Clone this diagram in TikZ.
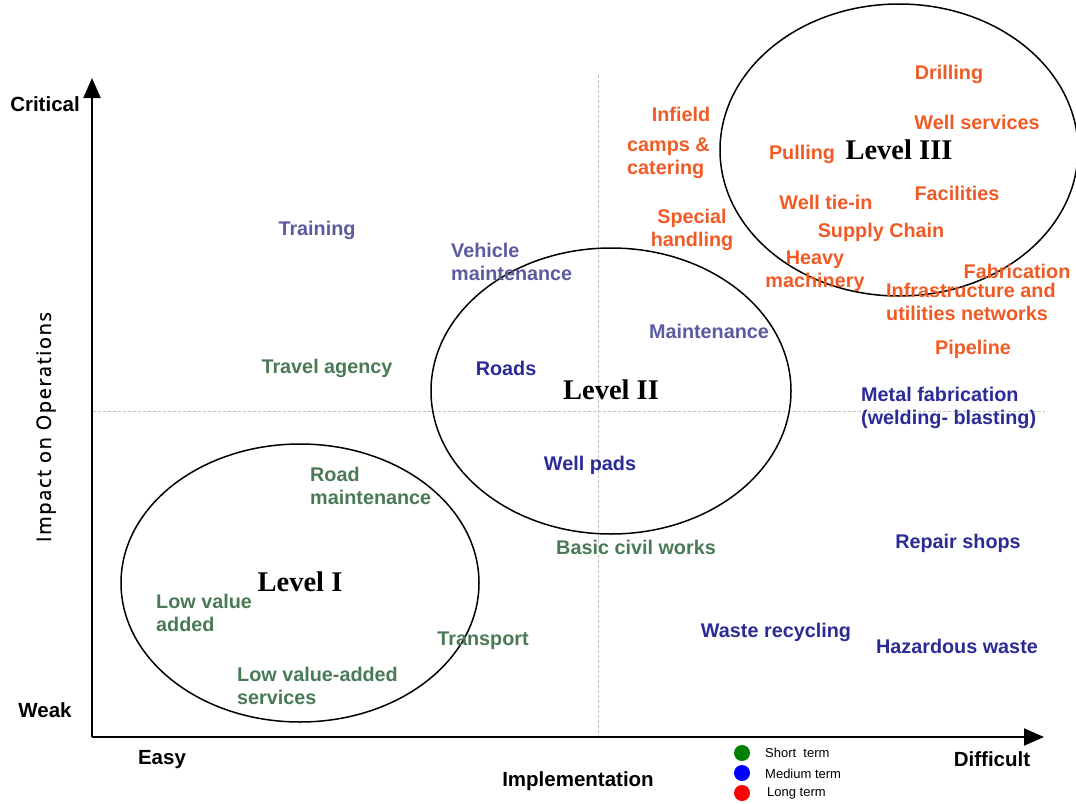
\documentclass[tikz,border=0pt]{standalone}
\usepackage{fontspec}
\setmainfont{Liberation Sans}
\newfontfamily\lvlfont{Liberation Serif}
\newfontfamily\impfont[LetterSpace=8, FakeBold=0.8]{Open Sans}
\usetikzlibrary{arrows.meta}
\definecolor{orng}{HTML}{F05A24}
\definecolor{purp}{HTML}{5B5B9E}
\definecolor{dblue}{HTML}{2B2B96}
\definecolor{grn}{HTML}{4A7A55}
\tikzset{
  lbl/.style={inner sep=0pt, yshift=-1pt, font=\fontsize{19.8}{23}\selectfont\bfseries, align=left},
  olbl/.style={lbl, text=orng},
  plbl/.style={lbl, text=purp},
  blbl/.style={lbl, text=dblue},
  glbl/.style={lbl, text=grn},
  axlbl/.style={inner sep=0pt, yshift=-0.5pt, font=\fontsize{20.5}{23}\selectfont\bfseries},
  lvl/.style={inner sep=0pt, yshift=-1pt, font=\fontsize{28.5}{32}\lvlfont\bfseries},
  ring/.style={draw=black, line width=1.5pt},
  guide/.style={draw=gray!50, line width=0.6pt, dash pattern=on 3pt off 2pt},
  axis/.style={draw=black, line width=2pt, -{Triangle[length=20pt,width=17pt]}},
  legdot/.style={circle, inner sep=0pt, minimum size=16pt},
  legtxt/.style={inner sep=0pt, anchor=west, yshift=-1pt, font=\fontsize{13}{15}\selectfont}
}
\begin{document}
\begin{tikzpicture}[x=1pt,y=-1pt]
\useasboundingbox (0,0) rectangle (1076,803);
% guides
\coordinate (vtop) at (598,75);
\coordinate (vbot) at (598,737);
\coordinate (hl) at (93,411);
\coordinate (hr) at (1045,411);
\draw[guide] (vtop) -- (vbot);
\draw[guide] (hl) -- (hr);
% axes
\coordinate (orig) at (92,737);
\coordinate (ytip) at (92,78);
\coordinate (xtip) at (1044,737);
\draw[axis] (orig) -- (ytip);
\draw[axis] (orig) -- (xtip);
% ellipses
\draw[ring] (300,583) ellipse [x radius=179, y radius=139];
\draw[ring] (611,391) ellipse [x radius=180, y radius=143];
\draw[ring] (899,150) ellipse [x radius=179, y radius=146];
% level labels
\node[lvl] (l1) at (300,581) {Level I};
\node[lvl] (l2) at (611,389) {Level II};
\node[lvl] (l3) at (899,149) {Level III};
% axis labels
\node[axlbl] (crit) at (45,104) {Critical};
\node[axlbl] (weak) at (45,710) {Weak};
\node[axlbl] (easy) at (162,759) {Easy};
\node[axlbl] (impl) at (578,781) {Implementation};
\node[axlbl] (diff) at (992,759) {Difficult};
\node[inner sep=0pt, rotate=90, font=\fontsize{20}{23}\impfont] (impact) at (46,427) {Impact on Operations};
% orange
\node[olbl] (infield) at (681,113) {Infield};
\node[olbl, anchor=west] (camps) at (627,157) {camps \&\\catering};
\node[olbl, align=center] (special) at (692,229) {Special\\handling};
\node[olbl] (pulling) at (802,153) {Pulling};
\node[olbl] (drilling) at (949,73) {Drilling};
\node[olbl] (wellserv) at (977,121) {Well services};
\node[olbl] (welltie) at (826,201) {Well tie-in};
\node[olbl] (facil) at (957,192) {Facilities};
\node[olbl] (supply) at (881,231) {Supply Chain};
\node[olbl, align=center] (heavy) at (815,270) {Heavy\\machinery};
\node[olbl] (fabr) at (1017,270) {Fabrication};
\node[olbl, anchor=west] (infra) at (886,301) {Infrastructure and\\utilities networks};
\node[olbl] (pipe) at (973,348) {Pipeline};
% purple
\node[plbl] (training) at (317,229) {Training};
\node[plbl, anchor=west] (vehicle) at (451,261) {Vehicle\\maintenance};
\node[plbl] (maint) at (709,330) {Maintenance};
% dark blue
\node[blbl] (roads) at (506,367) {Roads};
\node[blbl] (wellpads) at (590,464) {Well pads};
\node[blbl, anchor=west] (metal) at (861,407) {Metal fabrication\\(welding- blasting)};
\node[blbl] (repair) at (958,542) {Repair shops};
\node[blbl] (waste) at (776,631) {Waste recycling};
\node[blbl] (hazard) at (957,645) {Hazardous waste};
% green
\node[glbl] (travel) at (327,367) {Travel agency};
\node[glbl, anchor=west] (roadm) at (310,485) {Road\\maintenance};
\node[glbl] (basic) at (636,546) {Basic civil works};
\node[glbl, anchor=west] (lowva) at (156,612) {Low value\\added};
\node[glbl] (transport) at (483,640) {Transport};
\node[glbl, anchor=west] (lowvas) at (237,685) {Low value-added\\services};
% legend
\node[legdot, fill={rgb,255:red,0;green,128;blue,0}] (dg) at (742,753) {};
\node[legdot, fill={rgb,255:red,0;green,0;blue,255}] (db) at (742,773) {};
\node[legdot, fill={rgb,255:red,255;green,0;blue,0}] (dr) at (742,793) {};
\node[legtxt] (tg) at (765,752) {Short\ \ term};
\node[legtxt] (tb) at (765,773) {Medium term};
\node[legtxt] (tr) at (767,792) {Long term};
\end{tikzpicture}
\end{document}
